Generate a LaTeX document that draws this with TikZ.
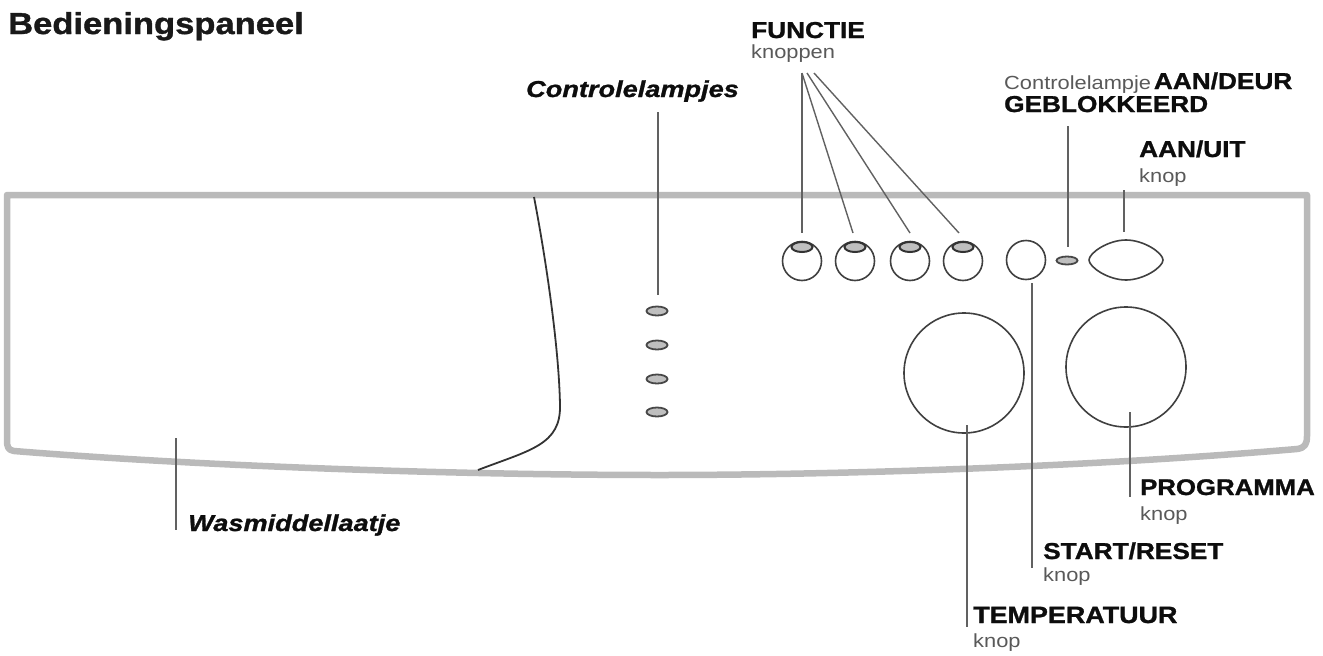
\documentclass[tikz,border=0pt]{standalone}
\usepackage{fontspec}
\setmainfont{Liberation Sans}
\newfontfamily\blackfont[FakeBold=1.2,FakeStretch=1.14]{Liberation Sans Bold}
\newfontfamily\blackitfont[FakeBold=1.2,FakeStretch=1.18]{Liberation Sans Bold Italic}
\newfontfamily\widefont[FakeStretch=1.15]{Liberation Sans}
\usetikzlibrary{shapes.geometric}
\tikzset{
 x=1pt,y=-1pt,
 lab/.style={anchor=base west,inner sep=0pt,font=\fontsize{23}{25}\blackfont,text=black!95},
 itlab/.style={anchor=base west,inner sep=0pt,font=\fontsize{23}{25}\blackitfont,text=black!95},
 sub/.style={anchor=base west,inner sep=0pt,font=\fontsize{19}{21}\widefont,text=black!65},
 lead/.style={draw=black!62,line width=1.4pt},
 knob/.style={circle,draw=black!75,line width=1.6pt,inner sep=0pt,fill=white},
 led/.style={ellipse,draw=black!72,line width=1.8pt,fill=black!25,inner sep=0pt,minimum width=21pt,minimum height=9pt},
 panel/.style={draw=black!27,line width=6.5pt,line join=round},
}
\begin{document}
\begin{tikzpicture}
\useasboundingbox (0,0) rectangle (1323,656);
% panel
\draw[panel] (7,195) -- (1307,195) -- (1307,436) .. controls (1307,444) and (1305,448) .. (1297,449)
 .. controls (1100,466) and (850,475) .. (660,475)
 .. controls (450,475) and (200,466) .. (14,451)
 .. controls (8,450) and (7,447) .. (7,440) -- cycle;
% drawer
\coordinate (dt) at (534,197);
\coordinate (db) at (478,470);
\draw[black!80,line width=1.8pt] (dt) .. controls (547,265) and (559,350) .. (560,405)
 .. controls (561,445) and (530,450) .. (db);
% lamps
\node[led] (l1) at (657,311) {};
\node[led] (l2) at (657,345) {};
\node[led] (l3) at (657,379) {};
\node[led] (l4) at (657,412) {};
% function buttons
\foreach \n/\cx in {a/802,b/855,c/910,d/963}{
 \node[knob,minimum size=39pt] (f\n) at (\cx,261) {};
 \node[ellipse,draw=black!80,line width=2pt,fill=black!25,inner sep=0pt,minimum width=21pt,minimum height=10pt] (fl\n) at (\cx,247) {};
}
\node[knob,minimum size=39pt] (start) at (1026,260) {};
\node[led,minimum width=21pt,minimum height=8pt] (doorled) at (1067,260.5) {};
\coordinate (oL) at (1089,260);
\coordinate (oR) at (1163,260);
\draw[black!75,line width=1.6pt,fill=white] (oL) .. controls (1089,253) and (1108,240) .. (1126,240)
 .. controls (1144,240) and (1163,253) .. (oR) .. controls (1163,267) and (1144,280) .. (1126,280)
 .. controls (1108,280) and (1089,267) .. (oL) -- cycle;
\node[knob,minimum size=120pt] (temp) at (964,373) {};
\node[knob,minimum size=120pt] (prog) at (1126,367) {};
% labels
\node[anchor=base west,inner sep=0pt,font=\fontsize{30.3}{32}\blackfont,text=black!90] (title) at (8,34) {Bedieningspaneel};
\node[lab] (funct) at (751,38) {FUNCTIE};
\node[sub] (kn) at (751,58) {knoppen};
\node[itlab] (ctrl) at (526,97) {Controlelampjes};
\node[anchor=base west,inner sep=0pt] (door) at (1004,89) {{\fontsize{19}{21}\widefont\color{black!65}Controlelampje} {\fontsize{23}{25}\blackfont\color{black!95}AAN/DEUR}};
\node[lab] (geb) at (1004,112) {GEBLOKKEERD};
\node[lab] (aan) at (1139,157) {AAN/UIT};
\node[sub] (aank) at (1139,182) {knop};
\node[lab,font=\fontsize{22.6}{25}\blackfont] (pro) at (1140,495) {PROGRAMMA};
\node[sub] (prok) at (1140,520) {knop};
\node[lab] (sta) at (1043,559) {START/RESET};
\node[sub] (stak) at (1043,581) {knop};
\node[lab,font=\fontsize{23.6}{25}\blackfont] (tem) at (973,623) {TEMPERATUUR};
\node[sub] (temk) at (973,647) {knop};
\node[itlab] (was) at (188,531) {Wasmiddellaatje};
% leader free ends
\coordinate (fo) at (802,73);
\coordinate (ft1) at (802,233);
\coordinate (ft2) at (853,233);
\coordinate (ft3) at (910,233);
\coordinate (ft4) at (959,233);
\draw[lead] (fo) -- (ft1);
\draw[lead] (fo) -- (ft2);
\coordinate (fo2) at (807,73);
\draw[lead] (fo2) -- (ft3);
\coordinate (fo3) at (814,73);
\draw[lead] (fo3) -- (ft4);
\coordinate (c1) at (658,112); \coordinate (c2) at (658,295);
\draw[lead] (c1) -- (c2);
\coordinate (g1) at (1068,126); \coordinate (g2) at (1068,247);
\draw[lead] (g1) -- (g2);
\coordinate (a1) at (1124,190); \coordinate (a2) at (1124,232);
\draw[lead] (a1) -- (a2);
\coordinate (s1) at (1032,283); \coordinate (s2) at (1032,568);
\draw[lead] (s1) -- (s2);
\coordinate (t1) at (967,425); \coordinate (t2) at (967,627);
\draw[lead] (t1) -- (t2);
\coordinate (p1) at (1130,412); \coordinate (p2) at (1130,497);
\draw[lead] (p1) -- (p2);
\coordinate (w1) at (176,438); \coordinate (w2) at (176,530);
\draw[lead] (w1) -- (w2);
\end{tikzpicture}
\end{document}
